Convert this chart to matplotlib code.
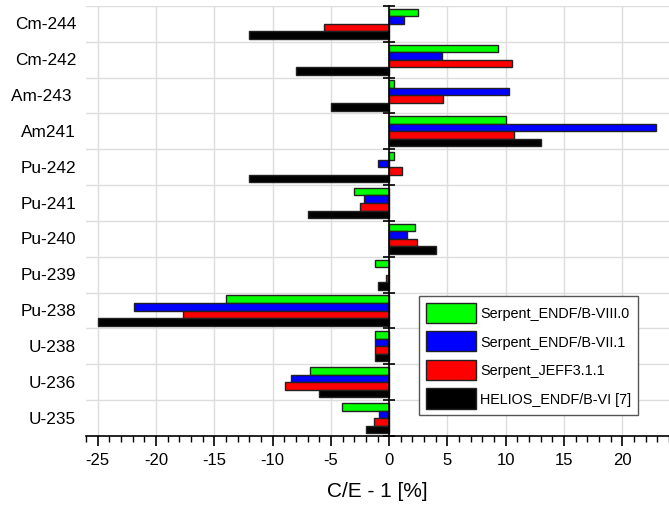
import matplotlib
matplotlib.use("Agg")
import matplotlib.pyplot as plt
from matplotlib.ticker import MultipleLocator
from matplotlib.patches import Patch
import numpy as np

plt.rcParams['font.family'] = ['Liberation Sans', 'DejaVu Sans']
plt.rcParams['axes.unicode_minus'] = False

# categories from bottom to top
isotopes = ["U-235", "U-236", "U-238", "Pu-238", "Pu-239", "Pu-240",
            "Pu-241", "Pu-242", "Am241", "Am-243 ", "Cm-242", "Cm-244"]
serpent_b8 = [-4.05, -6.8, -1.2, -14.0, -1.2, 2.2, -3.05, 0.43, 10.0, 0.4, 9.3, 2.5]
serpent_b7 = [-0.9, -8.4, -1.2, -21.9, 0.0, 1.5, -2.2, -0.97, 22.9, 10.3, 4.5, 1.3]
serpent_jeff = [-1.3, -8.9, -1.2, -17.7, -0.3, 2.35, -2.5, 1.1, 10.7, 4.6, 10.5, -5.6]
helios = [-2.0, -6.0, -1.25, -25.0, -1.0, 4.05, -7.0, -12.0, 13.0, -5.0, -8.0, -12.0]

series = [
    ("Serpent_ENDF/B-VIII.0", serpent_b8, "#00ff00"),
    ("Serpent_ENDF/B-VII.1", serpent_b7, "#0000ff"),
    ("Serpent_JEFF3.1.1", serpent_jeff, "#ff0000"),
    ("HELIOS_ENDF/B-VI [7]", helios, "#000000"),
]

fig = plt.figure(figsize=(6.69, 5.06), dpi=100)
ax = fig.add_axes([0.1286, 0.1364, 0.8714, 0.850])

y = np.arange(len(isotopes))
h = 0.21
offsets = [1.5 * h, 0.5 * h, -0.5 * h, -1.5 * h]
for (name, vals, col), off in zip(series, offsets):
    ax.barh(y + off, vals, height=h, color=col, edgecolor="#222222", linewidth=1.0, zorder=3)

ax.set_xlim(-26, 24)
ax.set_ylim(-0.5, len(isotopes) - 0.5)

# grid
ax.xaxis.set_major_locator(MultipleLocator(5))
ax.xaxis.set_minor_locator(MultipleLocator(1))
ax.set_yticks(np.arange(-0.5, len(isotopes), 1))
ax.set_yticklabels([])
ax.grid(True, which="major", color="#dddddd", linewidth=1.0, zorder=0)
ax.set_axisbelow(True)

ax.spines["top"].set_visible(False)
ax.spines["right"].set_visible(False)
ax.spines["left"].set_position(("data", 0))
ax.spines["left"].set_zorder(5)
ax.spines["bottom"].set_linewidth(1.2)
ax.spines["left"].set_linewidth(1.2)

ax.tick_params(axis="x", which="major", direction="out", length=7.5, width=1.2, labelsize=12, pad=4)
ax.tick_params(axis="x", which="minor", direction="out", length=4, width=1.0)
ax.tick_params(axis="y", which="major", direction="inout", length=8, width=1.2)

# category labels left of the plot
for yi, lab in zip(y, isotopes):
    ax.text(-0.017, yi, lab, transform=ax.get_yaxis_transform(), ha="right", va="center", fontsize=12.4)

ax.set_xlabel("C/E - 1 [%]", fontsize=15, labelpad=10)

handles = [Patch(facecolor=col, edgecolor="#222222", label=name) for name, vals, col in series]
leg = fig.legend(handles=handles, loc="upper left", bbox_to_anchor=(419 / 669, 1 - 297 / 506),
                 bbox_transform=fig.transFigure, fontsize=10.4, borderaxespad=0,
                 handlelength=3.5, handleheight=1.8, handletextpad=0.3, labelspacing=0.56,
                 borderpad=0.45, fancybox=False, framealpha=1, edgecolor="#555555")
leg.get_frame().set_linewidth(1.0)
leg.set_zorder(6)

fig.savefig("out.png", dpi=100)
